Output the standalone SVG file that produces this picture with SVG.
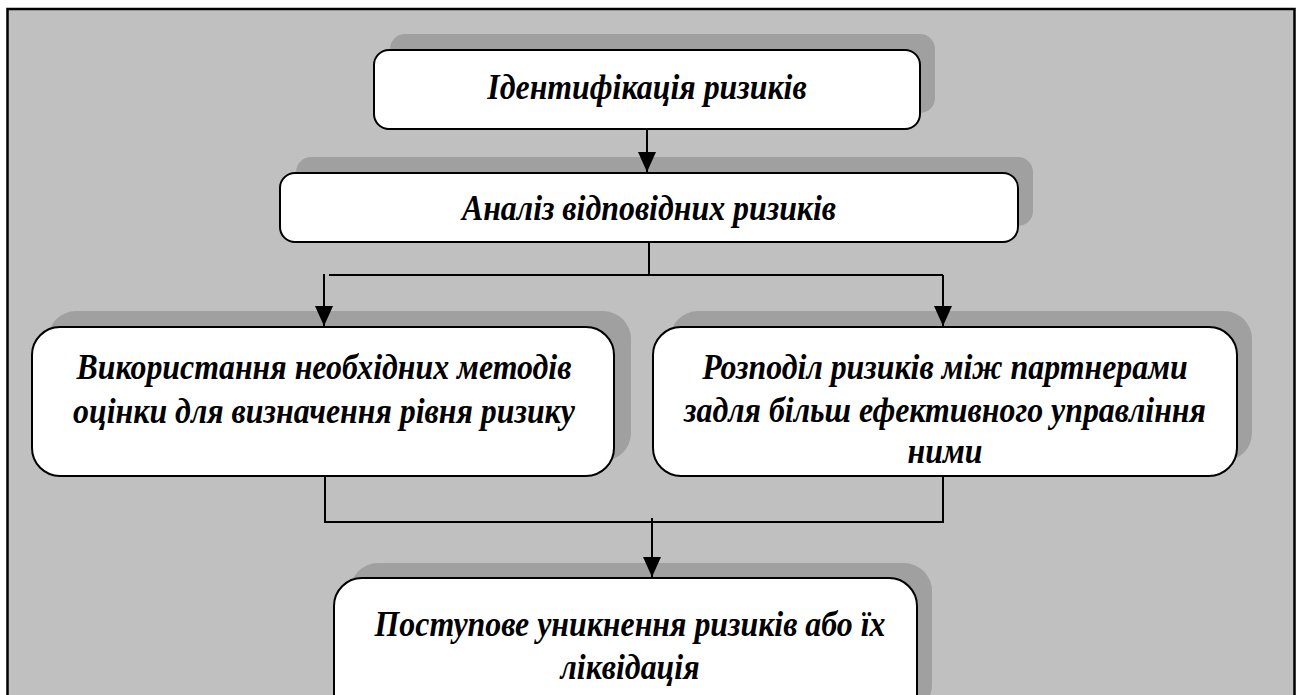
<svg xmlns="http://www.w3.org/2000/svg" width="1301" height="695" viewBox="0 0 1301 695">
<defs>
<marker id="arr" markerWidth="20" markerHeight="18" refX="20" refY="9" orient="auto" markerUnits="userSpaceOnUse" viewBox="0 0 20 18">
<path d="M0,0 L20,9 L0,18 Z" fill="#000"/>
</marker>
<style>
.bg{fill:#c0c0c0;stroke:#000;stroke-width:2.5}
.sh{fill:#a0a0a0}
.box{fill:#fff;stroke:#000;stroke-width:2}
.ln{fill:none;stroke:#000;stroke-width:2}
.t{font-family:"Liberation Serif","Times New Roman",serif;font-weight:bold;font-style:italic;font-size:36px;fill:#000;text-anchor:middle}
</style>
</defs>
<rect class="bg" x="7.5" y="9" width="1287" height="700"/>

<g id="n1">
<rect class="sh" x="390" y="34" width="545" height="79" rx="15"/>
<rect class="box" x="374" y="50" width="546" height="79" rx="15"/>
<text class="t" transform="translate(647,99) scale(0.885,1)">Ідентифікація ризиків</text>
</g>

<g id="n2">
<rect class="sh" x="296" y="157" width="737" height="69" rx="15"/>
<rect class="box" x="280" y="173" width="738" height="69" rx="15"/>
<text class="t" transform="translate(649,220) scale(0.885,1)">Аналіз відповідних ризиків</text>
</g>

<g id="n3">
<rect class="sh" x="48" y="311" width="583" height="150" rx="28"/>
<rect class="box" x="32" y="327" width="582" height="149" rx="28"/>
<text class="t" transform="translate(324,379) scale(0.885,1)">Використання необхідних методів</text>
<text class="t" transform="translate(324,423) scale(0.885,1)">оцінки для визначення рівня ризику</text>
</g>

<g id="n4">
<rect class="sh" x="670" y="311" width="582" height="150" rx="28"/>
<rect class="box" x="653" y="327" width="584" height="149" rx="28"/>
<text class="t" transform="translate(945,379) scale(0.885,1)">Розподіл ризиків між партнерами</text>
<text class="t" transform="translate(945,422) scale(0.885,1)">задля більш ефективного управління</text>
<text class="t" transform="translate(945,463) scale(0.885,1)">ними</text>
</g>

<g id="n5">
<rect class="sh" x="350" y="563" width="582" height="150" rx="28"/>
<rect class="box" x="334" y="578" width="583" height="150" rx="28"/>
<text class="t" transform="translate(630,636) scale(0.885,1)">Поступове уникнення ризиків або їх</text>
<text class="t" transform="translate(630,679) scale(0.885,1)">ліквідація</text>
</g>

<g id="connectors">
<line class="ln" x1="647" y1="129" x2="647" y2="172" marker-end="url(#arr)"/>
<polyline class="ln" points="649,242 649,275 329,275"/>
<line class="ln" x1="649" y1="275" x2="943" y2="275"/>
<line class="ln" x1="324" y1="274" x2="324" y2="326" marker-end="url(#arr)"/>
<line class="ln" x1="943" y1="275" x2="943" y2="326" marker-end="url(#arr)"/>
<polyline class="ln" points="325,476 325,522 943,522 943,476"/>
<line class="ln" x1="652" y1="518" x2="652" y2="577" marker-end="url(#arr)"/>
</g>
</svg>
